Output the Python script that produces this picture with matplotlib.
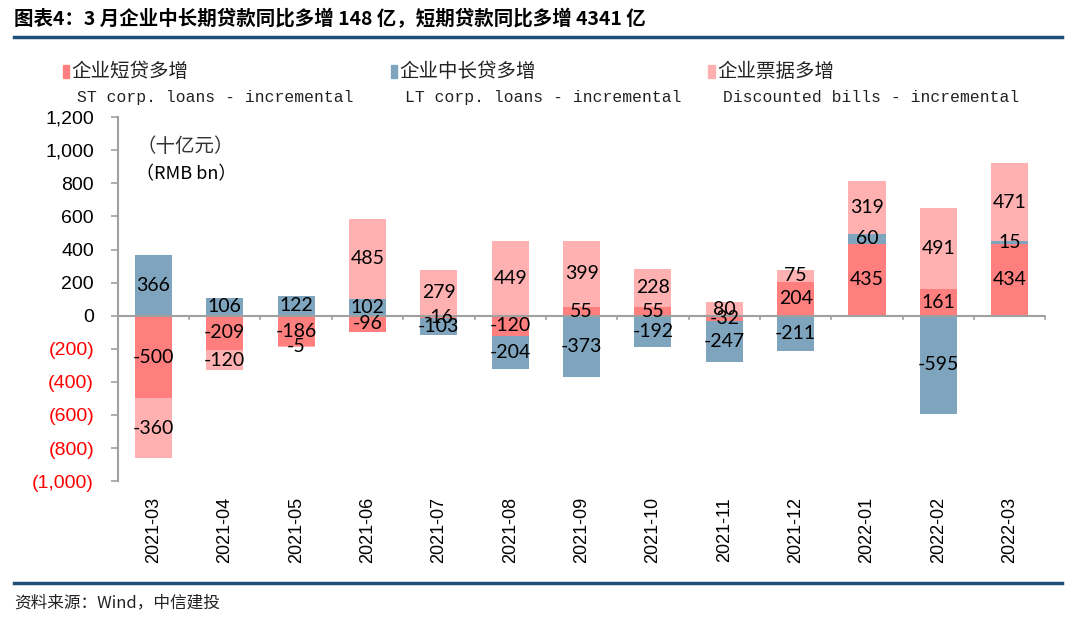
import numpy as np
import matplotlib.pyplot as plt
from matplotlib.lines import Line2D
from matplotlib.ticker import FuncFormatter

plt.rcParams['font.family'] = ['Noto Sans CJK SC', 'DejaVu Sans']

months = ["2021-03", "2021-04", "2021-05", "2021-06", "2021-07", "2021-08", "2021-09",
          "2021-10", "2021-11", "2021-12", "2022-01", "2022-02", "2022-03"]
st_loans = [-500, -209, -186, -96, -16, -120, 55, 55, -32, 204, 435, 161, 434]
lt_loans = [366, 106, 122, 102, -103, -204, -373, -192, -247, -211, 60, -595, 15]
bills = [-360, -120, -5, 485, 279, 449, 399, 228, 80, 75, 319, 491, 471]

series = [
    ("企业短贷多增", "ST corp. loans - incremental", st_loans, "#ff7f7f"),
    ("企业中长贷多增", "LT corp. loans - incremental", lt_loans, "#7fa5be"),
    ("企业票据多增", "Discounted bills - incremental", bills, "#ffb1b1"),
]

fig = plt.figure(figsize=(10.8, 6.2), dpi=100)
ax = fig.add_axes([0.109, 0.224, 0.859, 0.587])

x = np.arange(len(months))
pos_base = np.zeros(len(months))
neg_base = np.zeros(len(months))
for cn, en, vals, col in series:
    v = np.array(vals, dtype=float)
    bottom = np.where(v >= 0, pos_base, neg_base)
    bars = ax.bar(x, v, 0.52, bottom=bottom, color=col, zorder=2)
    ax.bar_label(bars, labels=[str(int(a)) for a in v], label_type="center",
                 fontsize=14, family="Lato", color="black", zorder=5)
    pos_base = pos_base + np.where(v >= 0, v, 0)
    neg_base = neg_base + np.where(v < 0, v, 0)

ax.set_xlim(-0.5, len(months) - 0.5)
ax.set_ylim(-1000, 1200)
ax.set_yticks(np.arange(-1000, 1201, 200))
ax.yaxis.set_major_formatter(FuncFormatter(
    lambda v, p: f"{v:,.0f}" if v >= 0 else f"({-v:,.0f})"))

ax.set_xticks(x)
ax.set_xticklabels(months, rotation=90, family="Liberation Sans", fontsize=13)
ax.xaxis.set_ticks_position("none")
ax.tick_params(axis="x", pad=8)
# minor ticks between categories on the zero line
for xi in np.arange(0.5, len(months), 1.0):
    ax.plot([xi, xi], [0, -22], color="#a0a0a0", lw=1.2, zorder=3, clip_on=False)
ax.axhline(0, color="#a0a0a0", lw=1.5, zorder=3)

for s in ["top", "right", "bottom"]:
    ax.spines[s].set_visible(False)
ax.spines["left"].set_color("#a0a0a0")
ax.spines["left"].set_linewidth(1.5)
ax.tick_params(axis="y", color="#a0a0a0", length=5, width=1.2, labelsize=14, pad=12)
fig.canvas.draw()
for t in ax.get_yticklabels():
    t.set_family("Liberation Sans")
    if t.get_text().startswith("("):
        t.set_color("red")

ax.text(0.02, 0.905, "（十亿元）", transform=ax.transAxes, fontsize=14, color="#333333")
ax.text(0.02, 0.83, "（RMB bn）", transform=ax.transAxes, fontsize=13, color="black")

# legend
legend_x = [0.058, 0.362, 0.656]
for lx, (cn, en, vals, col) in zip(legend_x, series):
    fig.patches.append(plt.Rectangle((lx, 0.875), 0.006, 0.02, color=col,
                                     transform=fig.transFigure, figure=fig))
    fig.text(lx + 0.008, 0.884, cn, fontsize=14, va="center", color="#222222")
    fig.text(lx + 0.013, 0.843, en, fontsize=11.8, va="center",
             family="Liberation Mono", color="#222222")

# title and frame lines
fig.text(0.013, 0.97, "图表4：3 月企业中长期贷款同比多增 148 亿，短期贷款同比多增 4341 亿",
         fontsize=14, fontweight="bold", va="center",
         family=["Noto Sans CJK SC", "DejaVu Sans"])
fig.add_artist(Line2D([0.013, 0.983], [0.94, 0.94], color="#1f4e79", lw=2.5,
                      transform=fig.transFigure))
fig.add_artist(Line2D([0.013, 0.983], [0.06, 0.06], color="#1f4e79", lw=2.5,
                      transform=fig.transFigure))
fig.text(0.013, 0.028, "资料来源：Wind，中信建投", fontsize=12, style="italic",
         va="center", color="#222222")

fig.savefig("out.png", dpi=100)
